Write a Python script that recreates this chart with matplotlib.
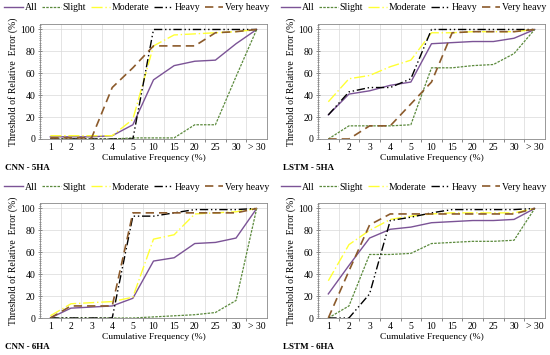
#!/usr/bin/env python3
import matplotlib
matplotlib.use('Agg')
import matplotlib.pyplot as plt
from matplotlib.ticker import MultipleLocator

plt.rcParams['font.family'] = ['Liberation Serif', 'DejaVu Serif']

freq_labels = ['1', '2', '3', '4', '5', '10', '15', '20', '25', '30', '> 30']
series_names = ['All', 'Slight', 'Moderate', 'Heavy', 'Very heavy']

# CNN - 5HA
cnn5_all = [2, 2, 2, 3, 13, 54, 67, 71, 72, 87, 100]
cnn5_slight = [0, 0, 0, 0, 1, 1, 1, 13, 13, 57, 100]
cnn5_moderate = [3, 3, 3, 3, 18, 85, 95, 96, 97, 98, 100]
cnn5_heavy = [0, 0, 0, 0, 0, 100, 100, 100, 100, 100, 100]
cnn5_vheavy = [1, 1, 1, 47, 65, 85, 85, 85, 97, 98, 100]

# LSTM - 5HA
lstm5_all = [22, 41, 44, 49, 52, 87, 88, 89, 89, 92, 100]
lstm5_slight = [0, 12, 12, 12, 13, 65, 65, 67, 68, 78, 100]
lstm5_moderate = [34, 55, 58, 66, 72, 97, 97, 98, 98, 98, 100]
lstm5_heavy = [22, 43, 47, 47, 55, 100, 100, 100, 100, 100, 100]
lstm5_vheavy = [0, 0, 12, 12, 32, 52, 97, 98, 98, 98, 100]

# CNN - 6HA
cnn6_all = [0, 9, 10, 11, 18, 52, 55, 68, 69, 73, 100]
cnn6_slight = [0, 0, 0, 0, 0, 1, 2, 3, 5, 16, 100]
cnn6_moderate = [2, 13, 14, 15, 19, 72, 76, 95, 96, 97, 100]
cnn6_heavy = [0, 0, 0, 0, 93, 93, 96, 99, 99, 99, 100]
cnn6_vheavy = [0, 11, 11, 11, 96, 96, 96, 96, 96, 96, 100]

# LSTM - 6HA
lstm6_all = [22, 48, 73, 81, 83, 87, 88, 89, 89, 90, 100]
lstm6_slight = [0, 11, 58, 58, 59, 68, 69, 70, 70, 71, 100]
lstm6_moderate = [34, 67, 80, 90, 93, 95, 96, 96, 96, 96, 100]
lstm6_heavy = [0, 0, 22, 89, 92, 96, 99, 99, 99, 99, 100]
lstm6_vheavy = [0, 43, 85, 95, 95, 95, 95, 95, 95, 95, 100]

panels = [
    ('CNN - 5HA', [cnn5_all, cnn5_slight, cnn5_moderate, cnn5_heavy, cnn5_vheavy]),
    ('LSTM - 5HA', [lstm5_all, lstm5_slight, lstm5_moderate, lstm5_heavy, lstm5_vheavy]),
    ('CNN - 6HA', [cnn6_all, cnn6_slight, cnn6_moderate, cnn6_heavy, cnn6_vheavy]),
    ('LSTM - 6HA', [lstm6_all, lstm6_slight, lstm6_moderate, lstm6_heavy, lstm6_vheavy]),
]

colors = ['#7B5396', '#5B8A3C', '#FFFF33', '#000000', '#8B5A2B']
styles = [
    dict(linestyle='-', linewidth=1.0),
    dict(linestyle=(0, (2, 1)), linewidth=0.9),
    dict(linestyle=(0, (8, 2, 1, 2)), linewidth=1.0),
    dict(linestyle=(0, (6, 2, 1, 2, 1, 2)), linewidth=1.0),
    dict(linestyle=(0, (5, 3)), linewidth=1.2),
]

W, H = 550, 355
fig = plt.figure(figsize=(5.5, 3.55), dpi=100)

# axes boxes in pixels: left, top, right, bottom ; legend centre x
boxes = [(40, 24, 267, 139, 137), (318, 24, 545, 139, 414),
         (40, 203, 267, 318, 137), (318, 203, 545, 318, 414)]

x = list(range(len(freq_labels)))
for (name, data), (l, t, r, b, lc) in zip(panels, boxes):
    ax = fig.add_axes([l / W, 1 - b / H, (r - l) / W, (b - t) / H])
    for vals, c, st, lab in zip(data, colors, styles, series_names):
        ax.plot(x, vals, color=c, label=lab, **st)
    ax.set_xlim(-0.5, len(x) - 0.5)
    ax.set_ylim(0, 105)
    ax.set_yticks([0, 20, 40, 60, 80, 100])
    ax.yaxis.set_minor_locator(MultipleLocator(2))
    ax.set_xticks(x)
    ax.set_xticklabels(freq_labels, fontsize=7)
    ax.set_xticks([i + 0.5 for i in x[:-1]], minor=True)
    ax.tick_params(axis='y', which='major', labelsize=7, length=3, width=0.5, pad=2,
                   direction='inout', color='#555555')
    ax.tick_params(axis='y', which='minor', length=1.5, width=0.4, direction='inout',
                   color='#555555')
    ax.tick_params(axis='x', which='major', length=0, pad=3)
    ax.tick_params(axis='x', which='minor', length=2, width=0.5, color='#555555')
    ax.xaxis.grid(True, which='minor', color='#D9D9D9', linewidth=0.5)
    ax.yaxis.grid(True, which='major', color='#D9D9D9', linewidth=0.5)
    ax.set_axisbelow(True)
    for sp in ax.spines.values():
        sp.set_color('#888888')
        sp.set_linewidth(0.6)
    ax.set_xlabel('Cumulative Frequency (%)', fontsize=6.8, labelpad=1)
    ax.set_ylabel('Threshold of Relative  Error (%)', fontsize=7, labelpad=2)
    handles, labels = ax.get_legend_handles_labels()
    fig.legend(handles, labels, loc='center', bbox_to_anchor=(lc / W, 1 - (t - 16) / H),
               ncol=5, frameon=False, fontsize=7, handlelength=1.9, handletextpad=0.2,
               columnspacing=0.5, borderaxespad=0, borderpad=0)
    fig.text((l - 35) / W, 1 - (b + 29) / H, name, fontsize=6.5, fontweight='bold',
             ha='left', va='center')

plt.savefig('out.png', dpi=100)
